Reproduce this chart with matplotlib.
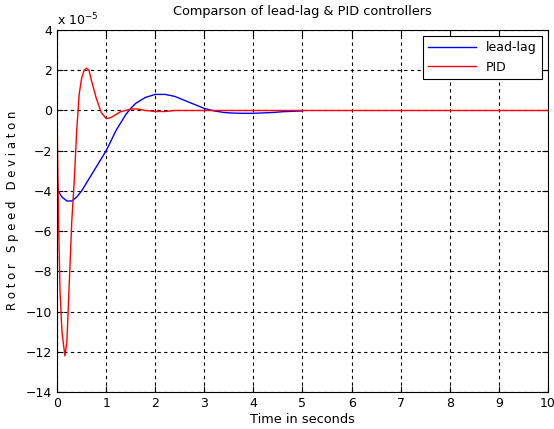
import matplotlib.pyplot as plt

# values in units of 1e-5
t_leadlag = [0, 0.02, 0.1, 0.2, 0.3, 0.4, 0.5, 0.6, 0.8, 1.0, 1.2, 1.4, 1.5, 1.6, 1.8, 2.0,
             2.2, 2.4, 2.6, 2.8, 3.0, 3.2, 3.4, 3.6, 3.8, 4.0, 4.2, 4.4, 4.6, 4.8, 5.0]
leadlag = [-3.1, -4.0, -4.3, -4.5, -4.5, -4.3, -4.0, -3.6, -2.8, -2.0, -1.0, -0.2, 0.1, 0.35, 0.65, 0.8,
           0.8, 0.7, 0.5, 0.3, 0.1, -0.02, -0.1, -0.13, -0.14, -0.14, -0.12, -0.1, -0.06, -0.04, -0.02]

t_pid = [0, 0.01, 0.03, 0.06, 0.1, 0.16, 0.2, 0.25, 0.3, 0.35, 0.4, 0.45, 0.5, 0.55, 0.6, 0.65,
         0.7, 0.8, 0.9, 1.0, 1.1, 1.2, 1.3, 1.4, 1.5, 1.6, 1.7, 1.8, 2.0, 2.2, 2.4, 10.0]
pid = [0, -2.0, -5.5, -9.0, -11.0, -12.2, -11.5, -8.5, -5.5, -3.5, -1.0, 0.8, 1.6, 2.0, 2.1, 2.0,
       1.5, 0.6, -0.1, -0.4, -0.35, -0.2, -0.05, 0.0, 0.07, 0.08, 0.05, 0.0, -0.05, -0.05, 0.0, 0.0]

fig = plt.figure(figsize=(5.54, 4.29), dpi=100)
ax = fig.add_axes([0.103, 0.086, 0.886, 0.844])

ax.plot(t_leadlag, leadlag, color='blue', lw=1, label='lead-lag')
ax.plot(t_pid, pid, color='red', lw=1, label='PID')

ax.set_xlim(0, 10)
ax.set_ylim(-14, 4)
ax.set_xticks(range(0, 11))
ax.set_yticks(range(-14, 5, 2))
ax.grid(True, color='black', linestyle=(0, (3, 3)), linewidth=0.8)
ax.tick_params(direction='in', labelsize=9, length=4, top=True, right=True)
for s in ax.spines.values():
    s.set_linewidth(0.8)

fig.text(0.545, 1 - 12 / 429, 'Comparson of lead-lag & PID controllers', fontsize=9.3,
         ha='center', va='center')
ax.set_xlabel('Time in seconds', fontsize=9.3, labelpad=2)
fig.text(13 / 554, 1 - 210 / 429, 'R o t o r   S p e e d   D e v i a t o n', fontsize=8.4,
         rotation=90, ha='center', va='center')
ax.text(0, 1.005, 'x 10$^{-5}$', transform=ax.transAxes, fontsize=9, va='bottom', ha='left')

leg = ax.legend(loc='upper right', fontsize=9, fancybox=False, framealpha=1,
                edgecolor='black', borderaxespad=0.5, handlelength=3.8)
leg.get_frame().set_linewidth(0.8)

fig.savefig('out.png', dpi=100)
